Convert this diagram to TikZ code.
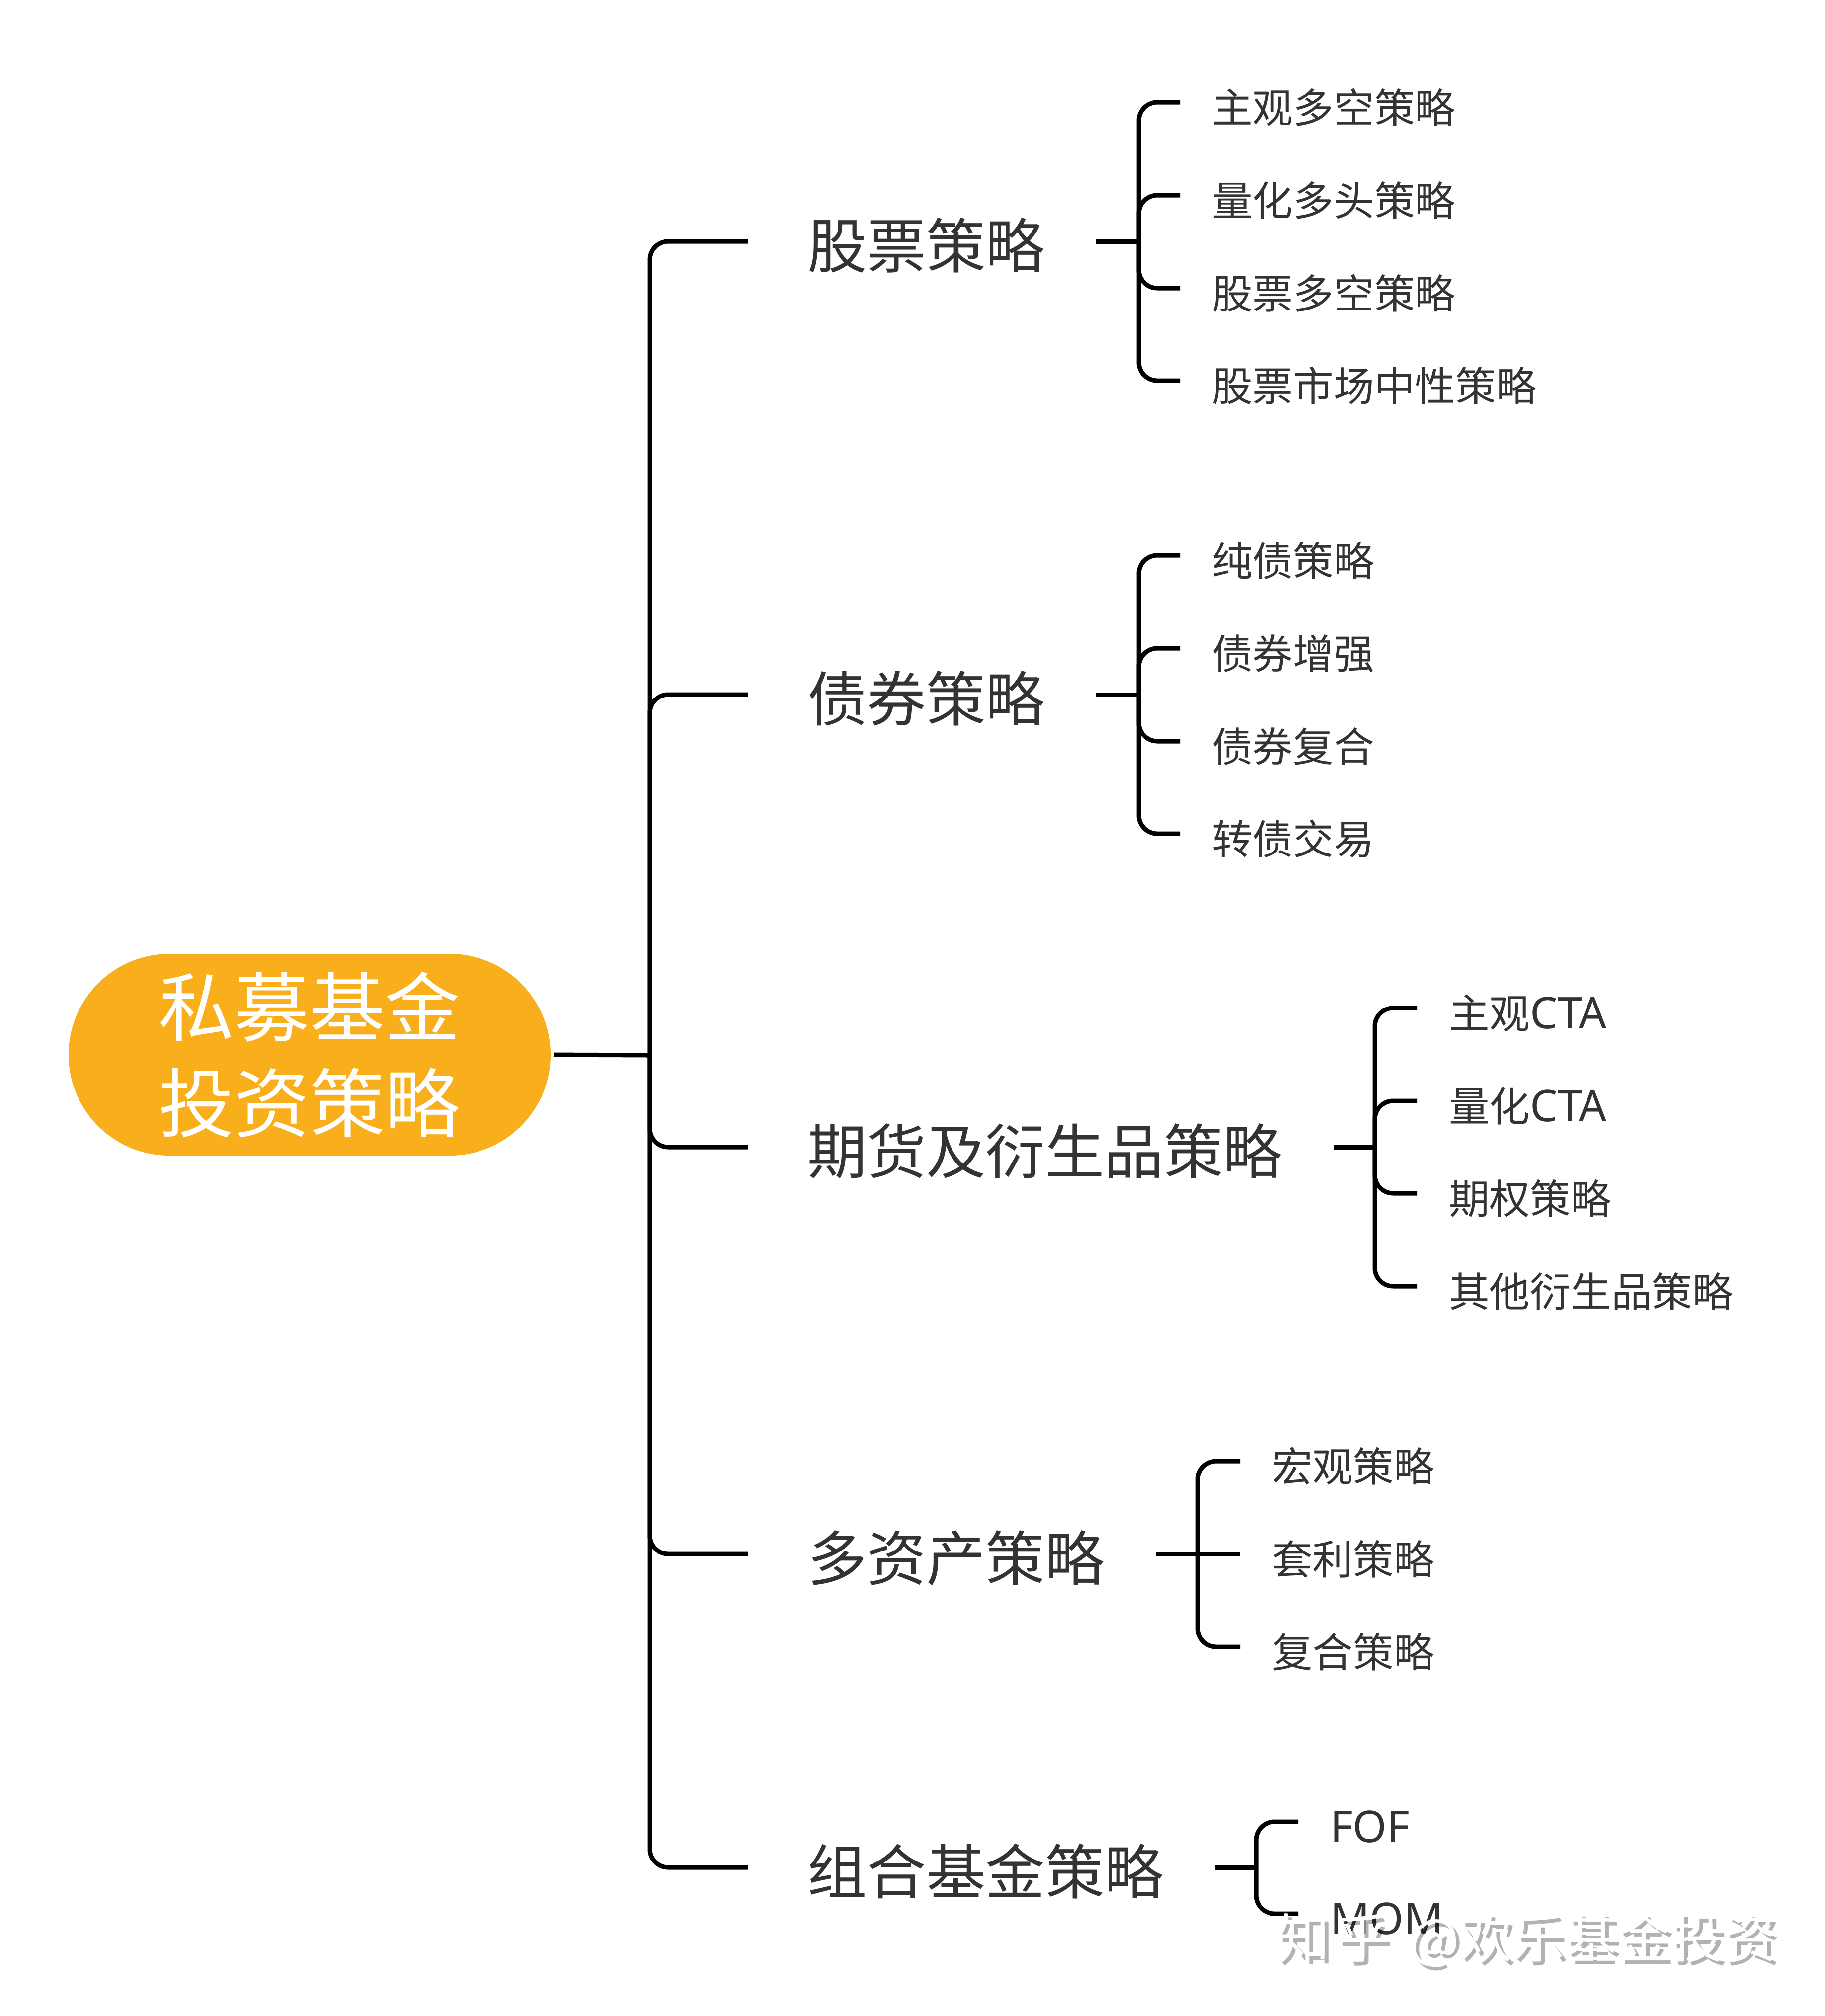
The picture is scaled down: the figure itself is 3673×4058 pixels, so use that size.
\documentclass[tikz,border=0pt]{standalone}
\usepackage{fontspec}
\setmainfont{Noto Sans CJK SC}
\newfontfamily\lat{Noto Sans}
\newcommand{\latin}[1]{{\fontsize{17.6}{20}\selectfont\lat #1}}
\newcommand{\wmlabel}{知\hspace*{2.7pt}乎\hspace*{8pt}@欢乐基金投资}
\usetikzlibrary{positioning}
\definecolor{rootfill}{HTML}{F9AE1C}
\definecolor{ink}{HTML}{333333}
\tikzset{
  x=0.2pt,y=-0.2pt,
  rootbox/.style={fill=rootfill,text=white,rounded corners=40.6pt,minimum width=194pt,minimum height=81.2pt,
    inner sep=0pt,outer sep=1.2pt,align=center,font=\fontsize{30.3}{38.6}\selectfont},
  branchbox/.style={anchor=west,text=ink,inner xsep=24pt,inner ysep=0pt,outer sep=0pt,text height=22pt,text depth=0.6pt,
    font=\fontsize{23.9}{28}\selectfont,execute at end node={\hspace*{-3.4pt}}},
  leafbox/.style={anchor=west,text=ink,inner xsep=12.8pt,inner ysep=0pt,outer sep=0pt,text height=16.6pt,text depth=0.2pt,
    font=\fontsize{16.35}{20}\selectfont},
  link/.style={draw=black,line width=1.8pt,rounded corners=7.4pt,line cap=butt},
  wmtext/.style={anchor=west,inner sep=0pt,font=\fontsize{21.3}{26}\selectfont},
}
\begin{document}
\begin{tikzpicture}
\useasboundingbox (0,0) rectangle (3673,4058);
\node[rootbox] (root) at (623,2123) {私募基金\\投资策略};
\coordinate (trunk) at (1308,2124);

\node[branchbox] (b1) at (1505,486) {股票策略};
\node[branchbox] (b2) at (1505,1398) {债券策略};
\node[branchbox] (b3) at (1505,2309) {期货及衍生品策略};
\node[branchbox] (b4) at (1505,3128) {多资产策略};
\node[branchbox] (b5) at (1505,3759) {组合基金策略};

\coordinate (g1) at (2292,486);
\coordinate (g2) at (2292,1398);
\coordinate (g3) at (2767,2309);
\coordinate (g4) at (2411,3128);
\coordinate (g5) at (2528,3759);

\node[leafbox] (a1) at (2375,206) {主观多空策略};
\node[leafbox] (a2) at (2375,393) {量化多头策略};
\node[leafbox] (a3) at (2375,580) {股票多空策略};
\node[leafbox] (a4) at (2375,766) {股票市场中性策略};

\node[leafbox] (c1) at (2375,1118) {纯债策略};
\node[leafbox] (c2) at (2375,1305) {债券增强};
\node[leafbox] (c3) at (2375,1492) {债券复合};
\node[leafbox] (c4) at (2375,1678) {转债交易};

\node[leafbox] (d1) at (2852,2029) {主观\latin{CTA}};
\node[leafbox] (d2) at (2852,2216) {量化\latin{CTA}};
\node[leafbox] (d3) at (2852,2402) {期权策略};
\node[leafbox] (d4) at (2852,2589) {其他衍生品策略};

\node[leafbox] (e1) at (2496,2941) {宏观策略};
\node[leafbox] (e2) at (2496,3128) {套利策略};
\node[leafbox] (e3) at (2496,3315) {复合策略};

\node[leafbox] (f1) at (2613,3667) {\latin{FOF}};
\node[leafbox] (f2) at (2613,3852) {\latin{MOM}};

\draw[link] (root.east) -- (trunk);
\foreach \b in {b1,b2,b3,b4,b5} \draw[link] (trunk) |- (\b.west);

\draw[link] (b1.east) -- (g1);
\foreach \n in {a1,a2,a3,a4} \draw[link] (g1) |- (\n.west);
\draw[link] (b2.east) -- (g2);
\foreach \n in {c1,c2,c3,c4} \draw[link] (g2) |- (\n.west);
\draw[link] (b3.east) -- (g3);
\foreach \n in {d1,d2,d3,d4} \draw[link] (g3) |- (\n.west);
\draw[link] (b4.east) -- (g4);
\foreach \n in {e1,e3} \draw[link] (g4) |- (\n.west);
\draw[link] (g4) -- (e2.west);
\draw[link] (b5.east) -- (g5);
\foreach \n in {f1,f2} \draw[link] (g5) |- (\n.west);

\node[wmtext,text=black,text opacity=0.3] (wmark) at (2576,3912) {\wmlabel};
\node[wmtext,text=white] (wmshadow) at (2568,3904) {\wmlabel};
\end{tikzpicture}
\end{document}
